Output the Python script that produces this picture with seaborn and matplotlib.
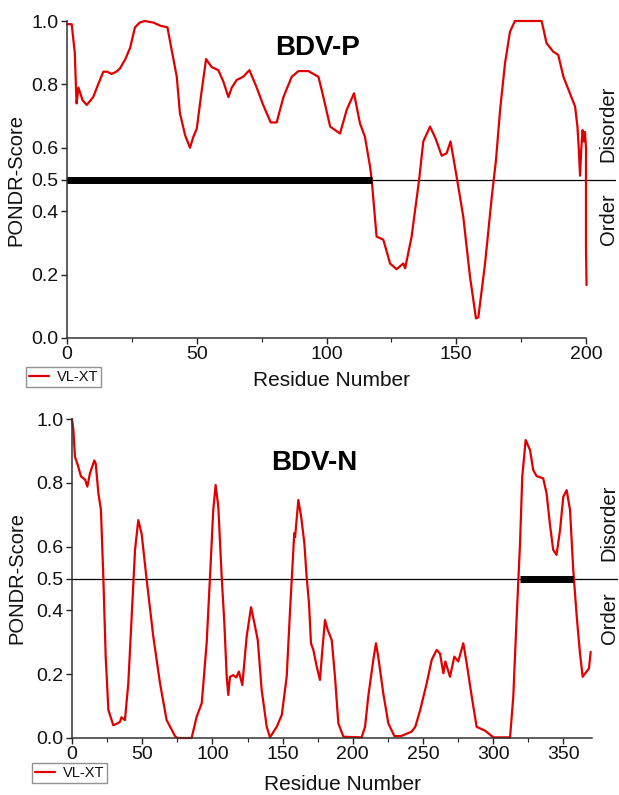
# PONDR VL-XT disorder profiles for BDV-P and BDV-N
import matplotlib
matplotlib.use("Agg")
import matplotlib.pyplot as plt
from matplotlib.ticker import MultipleLocator
import pandas as pd
import seaborn as sns

# BDV-P: residue number / PONDR score
p_residue = [0, 1.8, 3.0, 3.5, 3.7, 4.4, 6.0, 7.6, 10.1, 12, 14, 15.5, 17.2, 19, 20.4,
             22.5, 24.3, 26.2, 28, 30, 33.3, 36, 38.7, 40.3, 42.3, 43.5, 45.5, 47.4,
             48.7, 50, 51.9, 53.6, 55.7, 58.3, 60.2, 62.2, 63.5, 65.4, 67.9, 70.3,
             73.1, 75.6, 78.5, 80.8, 83.4, 86.6, 89.2, 93, 96.9, 98.8, 101.4, 105.2,
             107.8, 110.6, 112.9, 114.8, 116.8, 117.4, 119.3, 121.9, 124.5, 127,
             129.6, 130.3, 132.8, 135.7, 137.3, 139.9, 142, 144.4, 146.3, 147.8,
             149.5, 152.7, 155.3, 157.6, 158.5, 161.1, 163.7, 165.3, 166.9, 168.8,
             170.7, 172.6, 182.9, 184.8, 187.4, 189.3, 191.3, 193.8, 195.8, 196.7,
             197.2, 197.7, 198.2, 198.7, 199.2, 199.6, 200, 200, 200.2]
p_score = [0.99, 0.99, 0.90, 0.78, 0.74, 0.79, 0.75, 0.735, 0.76, 0.80, 0.84, 0.84,
           0.833, 0.84, 0.85, 0.88, 0.915, 0.98, 0.995, 1.0, 0.995, 0.985, 0.98, 0.91,
           0.824, 0.71, 0.64, 0.60, 0.635, 0.66, 0.78, 0.88, 0.855, 0.845, 0.81, 0.76,
           0.79, 0.814, 0.824, 0.845, 0.79, 0.735, 0.68, 0.68, 0.76, 0.824, 0.842,
           0.842, 0.824, 0.76, 0.667, 0.645, 0.72, 0.772, 0.677, 0.635, 0.54, 0.50,
           0.32, 0.31, 0.235, 0.217, 0.235, 0.22, 0.32, 0.50, 0.62, 0.667, 0.63,
           0.575, 0.583, 0.62, 0.54, 0.383, 0.193, 0.062, 0.065, 0.235, 0.446, 0.56,
           0.72, 0.867, 0.966, 1.0, 1.0, 0.93, 0.903, 0.893, 0.824, 0.772, 0.73,
           0.667, 0.60, 0.512, 0.60, 0.656, 0.62, 0.65, 0.60, 0.29, 0.167]

# BDV-N
n_residue = [0, 1, 2.1, 4.5, 6.4, 9.3, 10.9, 12.8, 15.9, 16.9, 18.8, 20.6, 22.3, 24,
             25.9, 29.4, 32, 34.2, 35.2, 37.7, 40.1, 42.5, 44.9, 47.2, 49.6, 53.2,
             57.9, 62.7, 67.4, 73.4, 75, 85.2, 88.8, 92.4, 95.9, 98.3, 100.6, 102.3,
             104.2, 106.6, 108.5, 110.2, 111.3, 112.5, 114.9, 117, 118.9, 121.3,
             124.4, 127.5, 129.9, 132.3, 135.1, 138.7, 141, 145.8, 149.4, 152.9,
             155.3, 156.9, 158.3, 158.9, 161.2, 163.2, 165.5, 167.1, 168.8, 170.2,
             171.9, 174.3, 176.6, 178.3, 180.2, 182.1, 185, 187.3, 189.7, 193.3,
             206.3, 208.7, 211, 214.6, 216.5, 218.1, 221.7, 225.3, 229.6, 234.3,
             241.9, 244.5, 248, 252.6, 256.2, 259.7, 262.1, 264.5, 265.9, 269.2,
             272.3, 275.1, 278.7, 281.1, 284.7, 288.2, 294.2, 300.1, 312, 314.3,
             316.7, 319.1, 320.7, 323.1, 326.2, 328.5, 330.9, 335.6, 338, 340.3,
             342.7, 345.1, 347.6, 349.9, 352.3, 354.7, 357, 359.5, 361.8, 363.7,
             366.5, 368.2, 369.4]
n_score = [1.0, 0.966, 0.882, 0.85, 0.82, 0.81, 0.788, 0.83, 0.87, 0.86, 0.767,
           0.715, 0.506, 0.255, 0.088, 0.04, 0.045, 0.051, 0.065, 0.056, 0.171, 0.38,
           0.59, 0.683, 0.64, 0.495, 0.318, 0.171, 0.056, 0.006, 0.0, 0.0, 0.067,
           0.109, 0.297, 0.506, 0.715, 0.793, 0.725, 0.506, 0.36, 0.192, 0.135,
           0.192, 0.197, 0.19, 0.208, 0.166, 0.318, 0.41, 0.36, 0.307, 0.15, 0.035,
           0.002, 0.035, 0.072, 0.192, 0.40, 0.527, 0.642, 0.63, 0.746, 0.694, 0.61,
           0.506, 0.422, 0.297, 0.276, 0.224, 0.182, 0.276, 0.37, 0.339, 0.307,
           0.192, 0.046, 0.004, 0.002, 0.035, 0.13, 0.245, 0.297, 0.255, 0.14,
           0.046, 0.006, 0.006, 0.02, 0.035, 0.088, 0.171, 0.245, 0.276, 0.265,
           0.203, 0.24, 0.192, 0.255, 0.24, 0.297, 0.234, 0.13, 0.035, 0.023, 0.002,
           0.002, 0.13, 0.38, 0.61, 0.82, 0.934, 0.903, 0.84, 0.821, 0.814, 0.767,
           0.673, 0.59, 0.574, 0.652, 0.756, 0.777, 0.715, 0.527, 0.38, 0.265,
           0.192, 0.208, 0.218, 0.27]

# long disordered regions (thick bars on the 0.5 line)
p_region = [0, 117.4]
n_region = [319, 357]

yticks = [0.0, 0.2, 0.4, 0.5, 0.6, 0.8, 1.0]

sns.set_style("ticks")
plt.rcParams["font.family"] = ["Liberation Sans", "DejaVu Sans"]

RED = "#e00000"
INK = "#111111"


def draw_panel(ax, residue, score, region, title, xmax, title_pos,
               leg_anchor, ylab_x, xlab_pos, side_x, line_end):
    """One PONDR panel"""
    df = pd.DataFrame({"Residue": residue, "Score": score})
    sns.lineplot(data=df, x="Residue", y="Score", ax=ax, color=RED,
                 lw=1.6, estimator=None, sort=False, label="VL-XT")
    ax.lines[-1].set_clip_on(False)
    ax.axhline(0.5, xmin=0, xmax=line_end, color="black", lw=0.9,
               clip_on=False, zorder=1)
    ax.hlines(0.5, region[0], region[1], color="black", lw=5, zorder=3)

    ax.set_xlim(0, xmax)
    ax.set_ylim(0, 1)
    ax.set_yticks(yticks)
    ax.set_yticklabels(["%.1f" % v for v in yticks])
    ax.xaxis.set_major_locator(MultipleLocator(50))
    ax.xaxis.set_minor_locator(MultipleLocator(25))
    ax.tick_params(axis="both", which="major", labelsize=14, length=4,
                   width=1, pad=2, colors="#222222", labelcolor=INK)
    ax.tick_params(axis="x", which="minor", length=3, width=0.8,
                   colors="#222222")
    for s in ("left", "bottom"):
        ax.spines[s].set_color("#333333")
        ax.spines[s].set_linewidth(1.1)
    sns.despine(ax=ax)

    ax.set_xlabel("Residue Number", fontsize=15, color=INK, va="top")
    ax.xaxis.set_label_coords(*xlab_pos)
    ax.set_ylabel("PONDR-Score", fontsize=14.5, color=INK)
    ax.yaxis.set_label_coords(ylab_x, 0.5)

    ax.text(title_pos[0], title_pos[1], title, transform=ax.transAxes,
            fontsize=20, fontweight="bold", ha="center", va="center",
            color="black")
    ax.text(side_x, 0.675, "Disorder", transform=ax.transAxes, rotation=90,
            fontsize=14.5, ha="center", va="center", color=INK)
    ax.text(side_x, 0.375, "Order", transform=ax.transAxes, rotation=90,
            fontsize=14.5, ha="center", va="center", color=INK)

    leg = ax.legend(loc="upper left", bbox_to_anchor=leg_anchor, frameon=True,
                    fancybox=False, fontsize=10.5, handlelength=1.4,
                    handletextpad=0.5, borderpad=0.2, borderaxespad=0)
    leg.get_frame().set_edgecolor("#777777")
    leg.get_frame().set_linewidth(1.0)
    for t in leg.get_texts():
        t.set_color(INK)


fig = plt.figure(figsize=(6.19, 7.95), dpi=100)
ax_p = fig.add_axes([67 / 619, 457 / 795, 519 / 619, 317 / 795])
ax_n = fig.add_axes([72 / 619, 57 / 795, 519.5 / 619, 319 / 795])

draw_panel(ax_p, p_residue, p_score, p_region, "BDV-P", 200,
           (0.482, 0.916), (-0.079, -0.091), -0.081, (0.509, -0.105),
           1.043, 1.056)
draw_panel(ax_n, n_residue, n_score, n_region, "BDV-N", 370,
           (0.466, 0.862), (-0.077, -0.078), -0.087, (0.52, -0.115),
           1.034, 1.049)

fig.savefig("out.png", dpi=100)
